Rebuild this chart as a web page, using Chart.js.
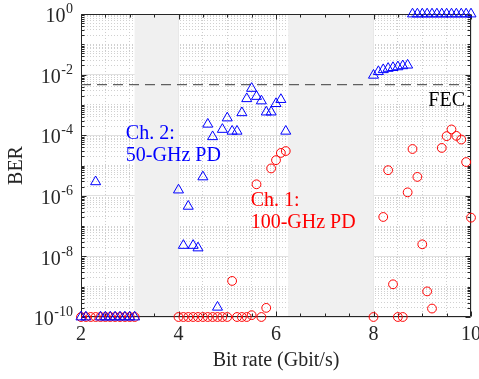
<!DOCTYPE html>
<html>
<head>
<meta charset="utf-8">
<script src="https://cdn.jsdelivr.net/npm/chart.js@4/dist/chart.umd.min.js"></script>
<style>
html, body { margin: 0; padding: 0; background: #fff; }
</style>
</head>
<body>
<canvas id="chartBer" width="479" height="379"></canvas>
<script>
// Ch. 1 (100-GHz PD), BER floor plotted at 1e-10
const ch1Rate = [2.0, 2.1, 2.2, 2.3, 2.4, 2.5, 2.6, 2.7, 2.8, 2.9, 3.0, 3.1,
    4.0, 4.1, 4.2, 4.3, 4.4, 4.5, 4.6, 4.7, 4.8, 4.9, 5.0, 5.1, 5.2, 5.3, 5.4, 5.5, 5.6, 5.7, 5.8, 5.9, 6.0, 6.1, 6.2,
    8.0, 8.2, 8.3, 8.4, 8.5, 8.6, 8.7, 8.8, 8.9, 9.0, 9.1, 9.2, 9.4, 9.5, 9.6, 9.7, 9.8, 9.9, 10.0];
const ch1Ber = [1e-10, 1e-10, 1e-10, 1e-10, 1e-10, 1e-10, 1e-10, 1e-10, 1e-10, 1e-10, 1e-10, 1e-10,
    1e-10, 1e-10, 1e-10, 1e-10, 1e-10, 1e-10, 1e-10, 1e-10, 1e-10, 1e-10, 1e-10, 1.55e-9, 1e-10, 1e-10, 1e-10, 1.15e-10, 2.4e-6, 1e-10, 2e-10, 8e-6, 1.5e-5, 2.6e-5, 3e-5,
    1e-10, 2e-7, 7e-6, 1.2e-9, 1e-10, 1e-10, 1.3e-6, 3.5e-5, 4.2e-6, 2.5e-8, 7e-10, 1.9e-10, 3.8e-5, 9.3e-5, 1.55e-4, 9.5e-5, 7.2e-5, 1.3e-5, 1.9e-7];

// Ch. 2 (50-GHz PD)
const ch2Rate = [2.0, 2.1, 2.3, 2.4, 2.5, 2.6, 2.7, 2.8, 2.9, 3.0, 3.1,
    4.0, 4.1, 4.2, 4.3, 4.4, 4.5, 4.6, 4.7, 4.8, 4.9, 5.0, 5.1, 5.2, 5.3, 5.4, 5.5, 5.6, 5.7, 5.8, 5.9, 6.0, 6.1, 6.2,
    8.0, 8.1, 8.2, 8.3, 8.4, 8.5, 8.6, 8.7,
    8.8, 8.9, 9.0, 9.1, 9.2, 9.3, 9.4, 9.5, 9.6, 9.7, 9.8, 9.9, 10.0];
const ch2Ber = [1e-10, 1e-10, 2.9e-6, 1e-10, 1e-10, 1e-10, 1e-10, 1e-10, 1e-10, 1e-10, 1e-10,
    1.55e-6, 2.3e-8, 4.5e-7, 2.3e-8, 1.9e-8, 4.2e-6, 2.3e-4, 8.9e-5, 2.1e-10, 1.55e-4, 3.7e-4, 1.35e-4, 1.35e-4, 5.5e-4, 1.6e-3, 3.5e-3, 1.9e-3, 1.35e-3, 5.8e-4, 5.8e-4, 1.1e-3, 1.5e-3, 1.35e-4,
    9.5e-3, 1.25e-2, 1.45e-2, 1.6e-2, 1.7e-2, 1.8e-2, 1.95e-2, 2.05e-2,
    1, 1, 1, 1, 1, 1, 1, 1, 1, 1, 1, 1, 1];

const fecLimit = 4.7e-3;
const shadedBands = [[3.1, 4.0], [6.25, 8.0]];
const xTickLabels = [2, 4, 6, 8, 10];
const yTickExps = [0, -2, -4, -6, -8, -10];

const SERIF = '"Liberation Serif", "Times New Roman", serif';
const AXIS = '#262626';

const toPoints = (xs, ys) => xs.map((v, i) => ({ x: v, y: ys[i] }));

// gridline positions: x every 0.5, y at 1..9 x 10^n
const xGrid = [];
for (let v = 2; v <= 10; v += 0.5) xGrid.push(v);
const yGrid = [];
for (let e = -10; e < 0; e++) {
    for (let m = 1; m <= 9; m++) yGrid.push(m * Math.pow(10, e));
}
yGrid.push(1);

const isMajorX = v => xTickLabels.includes(v);
const isMajorY = v => {
    const e = Math.log10(v);
    return Math.abs(e - Math.round(e)) < 1e-6 && Math.round(e) % 2 === 0;
};

const bandsAndBox = {
    id: 'bandsAndBox',
    beforeDatasetsDraw(chart) {
        const { ctx, chartArea: a, scales: { x, y } } = chart;
        ctx.save();
        ctx.fillStyle = '#f0f0f0';
        shadedBands.forEach(([from, to]) => {
            const x0 = x.getPixelForValue(from);
            const x1 = x.getPixelForValue(to);
            ctx.fillRect(x0, a.top, x1 - x0, a.bottom - a.top);
        });

        const L = Math.round(a.left) + 0.5, R = Math.round(a.right) - 0.5;
        const T = Math.round(a.top) + 0.5, B = Math.round(a.bottom) - 0.5;
        ctx.strokeStyle = AXIS;
        ctx.lineWidth = 1;
        ctx.beginPath();
        ctx.rect(L, T, R - L, B - T);
        // inward ticks
        yGrid.forEach(v => {
            const py = Math.round(y.getPixelForValue(v)) + 0.5;
            const len = isMajorY(v) ? 5 : 3;
            ctx.moveTo(L, py); ctx.lineTo(L + len, py);
            ctx.moveTo(R, py); ctx.lineTo(R - len, py);
        });
        xGrid.forEach(v => {
            const px = Math.round(x.getPixelForValue(v)) + 0.5;
            const len = isMajorX(v) ? 5 : 3;
            ctx.moveTo(px, B); ctx.lineTo(px, B - len);
            ctx.moveTo(px, T); ctx.lineTo(px, T + len);
        });
        ctx.stroke();
        ctx.restore();
    }
};

const labels = {
    id: 'labels',
    afterDraw(chart) {
        const { ctx, scales: { x, y } } = chart;
        ctx.save();
        ctx.textBaseline = 'middle';

        // y tick labels as 10 with superscript exponent
        const right = x.left - 8;
        yTickExps.forEach(e => {
            const py = y.getPixelForValue(Math.pow(10, e));
            const sup = String(e);
            ctx.font = '14px ' + SERIF;
            const supW = ctx.measureText(sup).width;
            ctx.fillStyle = AXIS;
            ctx.textAlign = 'left';
            ctx.fillText(sup, right - supW, py - 4.5);
            ctx.font = '20px ' + SERIF;
            ctx.textAlign = 'right';
            ctx.fillText('10', right - supW - 0.5, py + 3);
        });

        ctx.font = '20px ' + SERIF;
        ctx.textAlign = 'left';
        ctx.fillStyle = '#0000ff';
        let px = x.getPixelForValue(2.92), py = y.getPixelForValue(1.12e-4);
        ctx.fillText('Ch. 2:', px, py);
        ctx.fillText('50-GHz PD', px, py + 22.5);

        ctx.fillStyle = '#ff0000';
        px = x.getPixelForValue(5.48); py = y.getPixelForValue(6.9e-7);
        ctx.fillText('Ch. 1:', px, py);
        ctx.fillText('100-GHz PD', px, py + 22);

        ctx.fillStyle = '#000000';
        ctx.textAlign = 'right';
        ctx.fillText('FEC', x.getPixelForValue(10) - 6, y.getPixelForValue(fecLimit) + 16);
        ctx.restore();
    }
};

new Chart(document.getElementById('chartBer'), {
    type: 'scatter',
    data: {
        datasets: [{
            label: 'Ch. 2',
            data: toPoints(ch2Rate, ch2Ber),
            pointStyle: 'triangle',
            pointRadius: 5.8,
            borderWidth: 1,
            borderColor: '#0000ff',
            backgroundColor: 'rgba(0,0,0,0)',
            clip: false,
            order: 0
        }, {
            label: 'Ch. 1',
            data: toPoints(ch1Rate, ch1Ber),
            pointStyle: 'circle',
            pointRadius: 4.4,
            borderWidth: 1,
            borderColor: '#ff0000',
            backgroundColor: 'rgba(0,0,0,0)',
            clip: false,
            order: 1
        }, {
            label: 'FEC',
            data: [{ x: 2, y: fecLimit }, { x: 10, y: fecLimit }],
            showLine: true,
            pointRadius: 0,
            borderWidth: 1.2,
            borderColor: '#5f5f5f',
            borderDash: [10, 6],
            order: 2
        }]
    },
    options: {
        responsive: false,
        devicePixelRatio: 1,
        animation: false,
        layout: { padding: { left: 0, right: 8, top: 14, bottom: 0 } },
        plugins: { legend: { display: false }, tooltip: { enabled: false } },
        scales: {
            x: {
                type: 'linear',
                min: 2,
                max: 10,
                afterBuildTicks: s => { s.ticks = xGrid.map(v => ({ value: v })); },
                afterFit: s => { s.height = 62; s.paddingLeft = 0; s.paddingRight = 0; },
                grid: {
                    drawTicks: false,
                    color: c => (c.tick && isMajorX(c.tick.value)) ? '#e0e0e0' : '#cdcdcd'
                },
                border: {
                    display: false,
                    dash: c => (c.tick && isMajorX(c.tick.value)) ? [] : [1, 2]
                },
                ticks: {
                    autoSkip: false,
                    maxRotation: 0,
                    padding: 6,
                    color: AXIS,
                    font: { family: SERIF, size: 20 },
                    callback: v => isMajorX(v) ? String(v) : ''
                },
                title: {
                    display: true,
                    text: 'Bit rate (Gbit/s)',
                    color: AXIS,
                    font: { family: SERIF, size: 20 },
                    padding: { top: 0, bottom: 6 }
                }
            },
            y: {
                type: 'logarithmic',
                min: 1e-10,
                max: 1,
                afterBuildTicks: s => { s.ticks = yGrid.map(v => ({ value: v })); },
                afterFit: s => { s.width = 81; s.paddingTop = 0; s.paddingBottom = 0; },
                grid: {
                    drawTicks: false,
                    color: c => (c.tick && isMajorY(c.tick.value)) ? '#e0e0e0' : '#d0d0d0'
                },
                border: {
                    display: false,
                    dash: c => (c.tick && isMajorY(c.tick.value)) ? [] : [1, 2]
                },
                ticks: { display: false },
                title: {
                    display: true,
                    text: 'BER',
                    color: AXIS,
                    font: { family: SERIF, size: 20 },
                    padding: { top: 5, bottom: 0 }
                }
            }
        }
    },
    plugins: [bandsAndBox, labels]
});
</script>
</body>
</html>
